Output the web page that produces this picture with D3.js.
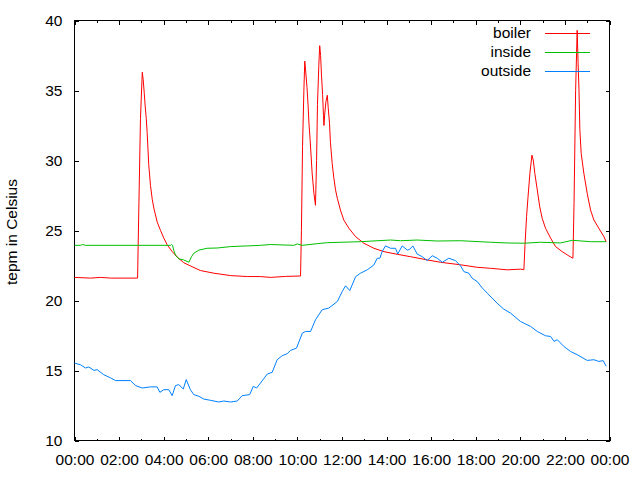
<!DOCTYPE html>
<html><head><meta charset="utf-8">
<script src="https://cdn.jsdelivr.net/npm/d3@7"></script>
<style>
body{margin:0;background:#fff}
svg{display:block}
text{font-family:"Liberation Sans",Arial,sans-serif;font-size:15.5px;fill:#000}
</style>
</head><body><svg width="640" height="480"></svg>
<script>
const xTickHours = [0,2,4,6,8,10,12,14,16,18,20,22,24];
const xTickLabels = ["00:00","02:00","04:00","06:00","08:00","10:00","12:00","14:00","16:00","18:00","20:00","22:00","00:00"];
const yTicks = [10,15,20,25,30,35,40];
const seriesNames = ["boiler","inside","outside"];
const seriesColors = ["#ff0000","#00c000","#0080ff"];
const yTitle = "tepm in Celsius";

// [hour of day, temperature]
const boiler = [[0,21.65],[0.72,21.6],[1.17,21.65],[1.62,21.6],[2.83,21.6],[2.89,27],[2.96,33],[3.04,36.3],[3.08,35.8],[3.13,34.8],[3.17,33.9],[3.22,33.0],[3.26,32.0],[3.33,29.7],[3.41,28.2],[3.49,27.2],[3.56,26.6],[3.71,25.6],[3.86,25.0],[4.01,24.45],[4.16,23.97],[4.38,23.5],[4.61,23.1],[4.9,22.7],[5.2,22.47],[5.65,22.14],[6.25,21.95],[7.0,21.78],[7.75,21.71],[8.34,21.71],[8.79,21.65],[9.47,21.72],[10.14,21.75],[10.18,25],[10.23,31],[10.29,35],[10.33,37.1],[10.37,36.4],[10.43,35.2],[10.48,33.9],[10.52,32.6],[10.57,31.5],[10.66,29.1],[10.74,27.65],[10.81,26.8],[10.86,30],[10.9,34],[10.96,36.8],[11.0,38.2],[11.04,37.5],[11.08,36.1],[11.13,34.7],[11.17,33.2],[11.19,32.5],[11.23,33.4],[11.28,34.2],[11.34,34.66],[11.38,33.8],[11.44,32.66],[11.48,31.3],[11.56,29.8],[11.63,28.8],[11.71,27.9],[11.79,27.3],[11.93,26.46],[12.08,25.75],[12.31,25.16],[12.61,24.56],[12.98,24.09],[13.43,23.73],[13.88,23.49],[14.48,23.3],[15.07,23.13],[15.82,22.9],[16.42,22.73],[17.32,22.55],[18.07,22.37],[18.66,22.3],[19.41,22.19],[20.01,22.24],[20.16,22.2],[20.21,24],[20.28,26],[20.34,27.3],[20.43,29.1],[20.52,30.38],[20.58,30.03],[20.65,29.08],[20.76,27.9],[20.87,26.7],[20.98,25.87],[21.13,25.16],[21.36,24.45],[21.58,23.85],[21.88,23.49],[22.18,23.18],[22.36,23.02],[22.41,27],[22.48,35],[22.55,39.3],[22.59,37],[22.63,35.1],[22.67,32.2],[22.73,30.5],[22.85,29.08],[23.0,27.65],[23.15,26.46],[23.3,25.75],[23.52,25.16],[23.75,24.56],[23.85,24.2]];

const inside = [[0,23.94],[0.27,23.94],[0.36,24.0],[0.49,23.94],[4.31,23.94],[4.35,24.0],[4.4,23.94],[4.45,23.6],[4.53,23.25],[4.68,22.97],[4.9,22.9],[5.13,22.73],[5.25,23.13],[5.35,23.37],[5.58,23.6],[5.95,23.73],[6.4,23.75],[7.0,23.85],[7.75,23.9],[8.34,23.94],[8.79,24.0],[9.84,23.94],[9.99,24.04],[10.21,23.94],[10.89,24.06],[11.34,24.13],[12.83,24.2],[14.18,24.32],[14.63,24.27],[15.37,24.32],[16.27,24.25],[17.32,24.27],[18.66,24.16],[19.41,24.11],[20.16,24.09],[20.91,24.16],[21.8,24.11],[22.33,24.3],[23.15,24.2],[23.85,24.2]];

const outside = [[0,15.53],[0.27,15.41],[0.49,15.18],[0.64,15.25],[0.87,15.01],[1.02,15.06],[1.31,14.7],[1.62,14.47],[1.84,14.28],[2.51,14.28],[2.74,13.92],[3.04,13.75],[3.41,13.83],[3.71,13.83],[3.83,13.44],[4.01,13.63],[4.23,13.63],[4.38,13.2],[4.53,13.92],[4.68,13.99],[4.88,13.68],[5.01,14.35],[5.2,13.63],[5.35,13.28],[5.58,13.16],[5.8,12.96],[6.1,12.87],[6.47,12.75],[6.7,12.82],[7.0,12.75],[7.3,12.82],[7.52,13.2],[7.86,13.28],[8.02,13.87],[8.17,13.75],[8.34,14.1],[8.65,14.75],[8.87,14.87],[9.09,15.77],[9.32,16.06],[9.54,16.2],[9.69,16.43],[9.96,16.6],[10.22,17.67],[10.36,17.79],[10.59,17.79],[10.81,18.62],[11.11,19.34],[11.41,19.46],[11.79,19.93],[12.01,20.64],[12.16,21.05],[12.35,20.71],[12.61,21.7],[12.83,21.95],[13.13,22.19],[13.43,22.54],[13.58,23.02],[13.7,23.02],[13.8,23.49],[13.95,23.9],[14.18,23.73],[14.4,23.73],[14.5,23.32],[14.7,23.9],[14.93,23.6],[15.03,23.65],[15.18,23.9],[15.37,23.32],[15.6,23.13],[15.82,22.85],[16.05,23.2],[16.27,23.02],[16.5,22.73],[16.79,23.02],[17.09,22.85],[17.32,22.47],[17.47,22.06],[17.69,21.95],[17.84,21.59],[18.07,21.35],[18.29,20.9],[18.52,20.52],[18.96,19.81],[19.26,19.38],[19.56,19.1],[20.01,18.5],[20.46,18.15],[20.76,17.79],[21.13,17.48],[21.36,17.43],[21.51,17.08],[21.66,17.2],[21.95,16.72],[22.25,16.36],[22.55,16.13],[23.0,15.72],[23.3,15.77],[23.52,15.65],[23.72,15.7],[23.85,15.3]];

const seriesData = [boiler, inside, outside];

const svg = d3.select("svg");
const L = 74.5, R = 609.5, T = 20.5, B = 440.5;
const x = d3.scaleLinear().domain([0,24]).range([L,R]);
const y = d3.scaleLinear().domain([10,40]).range([B,T]);

// axes with inward ticks
const fmt = (d) => xTickLabels[xTickHours.indexOf(d)];
const gB = svg.append("g").attr("transform",`translate(0,${B})`)
  .call(d3.axisBottom(x).tickValues(xTickHours).tickFormat(fmt).tickSizeInner(-4).tickSizeOuter(0).tickPadding(13));
const gBm = svg.append("g").attr("transform",`translate(0,${B})`)
  .call(d3.axisBottom(x).tickValues(d3.range(1,24,2)).tickFormat("").tickSizeInner(-2).tickSizeOuter(0));
const gT = svg.append("g").attr("transform",`translate(0,${T})`)
  .call(d3.axisTop(x).tickValues(xTickHours).tickFormat("").tickSizeInner(-4).tickSizeOuter(0));
const gTm = svg.append("g").attr("transform",`translate(0,${T})`)
  .call(d3.axisTop(x).tickValues(d3.range(1,24,2)).tickFormat("").tickSizeInner(-2).tickSizeOuter(0));
const gL = svg.append("g").attr("transform",`translate(${L},0)`)
  .call(d3.axisLeft(y).tickValues(yTicks).tickFormat(d3.format("d")).tickSizeInner(-4).tickSizeOuter(0).tickPadding(12));
const gR = svg.append("g").attr("transform",`translate(${R},0)`)
  .call(d3.axisRight(y).tickValues(yTicks).tickFormat("").tickSizeInner(-4).tickSizeOuter(0));
[gB,gBm,gT,gTm,gL,gR].forEach(g=>{
  g.select(".domain").remove();
  g.selectAll("line").attr("stroke","#000").attr("shape-rendering","crispEdges");
  g.selectAll("text").attr("font-family",null).attr("font-size",null).attr("fill","#000");
});
svg.append("rect").attr("x",L).attr("y",T).attr("width",R-L).attr("height",B-T)
  .attr("fill","none").attr("stroke","#000").attr("shape-rendering","crispEdges");

// series lines
const line = d3.line().x(d=>x(d[0])).y(d=>y(d[1]));
seriesData.forEach((s,i)=>{
  svg.append("path").datum(s).attr("d",line).attr("fill","none")
    .attr("stroke",seriesColors[i]).attr("stroke-width",1);
});

// legend
const legY = [33,52,71];
seriesNames.forEach((n,i)=>{
  svg.append("text").attr("x",531).attr("y",legY[i]).attr("dy","0.35em")
    .attr("text-anchor","end").text(n);
  svg.append("line").attr("x1",545).attr("x2",590).attr("y1",legY[i]+0.5).attr("y2",legY[i]+0.5)
    .attr("stroke",seriesColors[i]).attr("shape-rendering","crispEdges");
});

// y title
svg.append("text").attr("transform","translate(12,232) rotate(-90)")
  .attr("text-anchor","middle").attr("dy","0.35em").text(yTitle);
</script>
</body></html>
